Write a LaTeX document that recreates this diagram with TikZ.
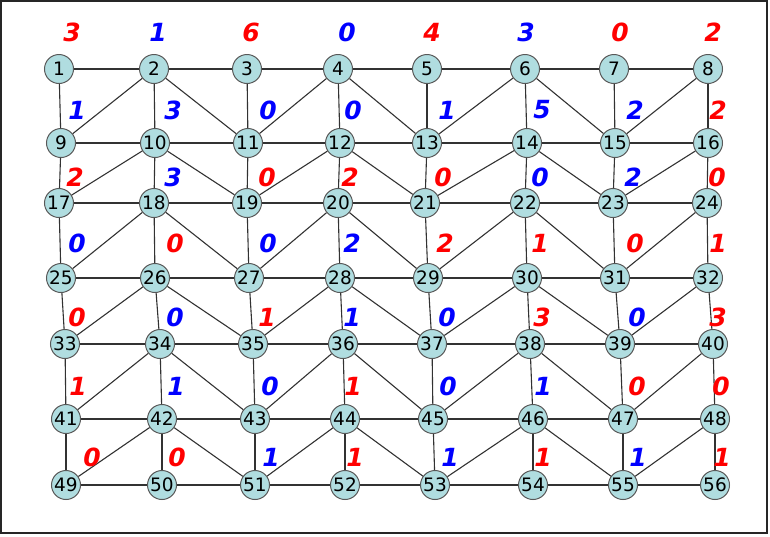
\documentclass[tikz,border=0pt]{standalone}
\usepackage{fontspec}
\setmainfont{DejaVu Sans}
\definecolor{nodefill}{RGB}{176,221,224}
\definecolor{edgecol}{RGB}{50,50,50}
\definecolor{labred}{RGB}{255,0,0}
\definecolor{labblue}{RGB}{0,0,255}
\tikzset{
  vertex/.style={circle, draw=black!65, line width=1pt, fill=nodefill, minimum size=29pt, inner sep=0pt, text=black, font=\fontsize{18.5}{18.5}\selectfont},
  edge/.style={draw=edgecol, line width=1.1pt},
  lab/.style={inner sep=0pt, font=\fontsize{25}{25}\selectfont\bfseries\itshape},
  rl/.style={lab, text=labred},
  bl/.style={lab, text=labblue},
  frame/.style={draw=black!85, line width=2pt}
}
\begin{document}
\begin{tikzpicture}[x=1pt,y=-1pt]
\useasboundingbox (0,0) rectangle (770,536);
\draw[frame] (1,1) rectangle (767,533);
% nodes
\node[vertex] (n1) at (59,69) {1};
\node[vertex] (n2) at (154,69) {2};
\node[vertex] (n3) at (247,69) {3};
\node[vertex] (n4) at (338,69) {4};
\node[vertex] (n5) at (427,69) {5};
\node[vertex] (n6) at (525,69) {6};
\node[vertex] (n7) at (614,69) {7};
\node[vertex] (n8) at (708,69) {8};
\node[vertex] (n9) at (61,143) {9};
\node[vertex] (n10) at (155,143) {10};
\node[vertex] (n11) at (248,143) {11};
\node[vertex] (n12) at (340,143) {12};
\node[vertex] (n13) at (427,143) {13};
\node[vertex] (n14) at (527,143) {14};
\node[vertex] (n15) at (615,143) {15};
\node[vertex] (n16) at (708,143) {16};
\node[vertex] (n17) at (59,203) {17};
\node[vertex] (n18) at (154,203) {18};
\node[vertex] (n19) at (247,203) {19};
\node[vertex] (n20) at (338,203) {20};
\node[vertex] (n21) at (425,203) {21};
\node[vertex] (n22) at (525,203) {22};
\node[vertex] (n23) at (613,203) {23};
\node[vertex] (n24) at (707,203) {24};
\node[vertex] (n25) at (61,278) {25};
\node[vertex] (n26) at (155,278) {26};
\node[vertex] (n27) at (249,278) {27};
\node[vertex] (n28) at (340,278) {28};
\node[vertex] (n29) at (428,278) {29};
\node[vertex] (n30) at (527,278) {30};
\node[vertex] (n31) at (615,278) {31};
\node[vertex] (n32) at (708,278) {32};
\node[vertex] (n33) at (65,344) {33};
\node[vertex] (n34) at (160,344) {34};
\node[vertex] (n35) at (253,344) {35};
\node[vertex] (n36) at (343,344) {36};
\node[vertex] (n37) at (432,344) {37};
\node[vertex] (n38) at (530,344) {38};
\node[vertex] (n39) at (620,344) {39};
\node[vertex] (n40) at (713,344) {40};
\node[vertex] (n41) at (66,419) {41};
\node[vertex] (n42) at (162,419) {42};
\node[vertex] (n43) at (255,419) {43};
\node[vertex] (n44) at (345,419) {44};
\node[vertex] (n45) at (433,419) {45};
\node[vertex] (n46) at (533,419) {46};
\node[vertex] (n47) at (623,419) {47};
\node[vertex] (n48) at (715,419) {48};
\node[vertex] (n49) at (66,485) {49};
\node[vertex] (n50) at (162,485) {50};
\node[vertex] (n51) at (255,485) {51};
\node[vertex] (n52) at (345,485) {52};
\node[vertex] (n53) at (435,485) {53};
\node[vertex] (n54) at (533,485) {54};
\node[vertex] (n55) at (623,485) {55};
\node[vertex] (n56) at (715,485) {56};
% horizontal edges
\foreach \r in {0,...,6}{
  \foreach \c in {1,...,7}{
    \pgfmathtruncatemacro\a{8*\r+\c}
    \pgfmathtruncatemacro\b{\a+1}
    \draw[edge] (n\a) -- (n\b);
  }
}
% vertical edges
\foreach \a in {1,...,48}{
  \pgfmathtruncatemacro\b{\a+8}
  \draw[edge] (n\a) -- (n\b);
}
% diagonal edges
\foreach \r in {0,...,5}{
  \foreach \c in {2,4,6,8}{
    \pgfmathtruncatemacro\a{8*\r+\c}
    \pgfmathtruncatemacro\b{\a+7}
    \draw[edge] (n\a) -- (n\b);
    \ifnum\c<8
      \pgfmathtruncatemacro\d{\a+9}
      \draw[edge] (n\a) -- (n\d);
    \fi
  }
}
% labels
\node[rl] (l1) at (72,32) {3};
\node[bl] (l2) at (158,32) {1};
\node[rl] (l3) at (251,32) {6};
\node[bl] (l4) at (347,32) {0};
\node[rl] (l5) at (432,32) {4};
\node[bl] (l6) at (526,32) {3};
\node[rl] (l7) at (620,32) {0};
\node[rl] (l8) at (713,32) {2};
\node[bl] (l9) at (77,110) {1};
\node[bl] (l10) at (173,110) {3};
\node[bl] (l11) at (268,110) {0};
\node[bl] (l12) at (353,110) {0};
\node[bl] (l13) at (447,110) {1};
\node[bl] (l14) at (542,110) {5};
\node[bl] (l15) at (635,110) {2};
\node[rl] (l16) at (718,110) {2};
\node[rl] (l17) at (75,177) {2};
\node[bl] (l18) at (173,177) {3};
\node[rl] (l19) at (267,177) {0};
\node[rl] (l20) at (350,177) {2};
\node[rl] (l21) at (443,177) {0};
\node[bl] (l22) at (540,177) {0};
\node[bl] (l23) at (633,177) {2};
\node[rl] (l24) at (717,177) {0};
\node[bl] (l25) at (77,243) {0};
\node[rl] (l26) at (175,243) {0};
\node[bl] (l27) at (268,243) {0};
\node[bl] (l28) at (352,243) {2};
\node[rl] (l29) at (445,243) {2};
\node[rl] (l30) at (540,243) {1};
\node[rl] (l31) at (635,243) {0};
\node[rl] (l32) at (718,243) {1};
\node[rl] (l33) at (77,317) {0};
\node[bl] (l34) at (175,317) {0};
\node[rl] (l35) at (267,317) {1};
\node[bl] (l36) at (352,317) {1};
\node[bl] (l37) at (447,317) {0};
\node[rl] (l38) at (542,317) {3};
\node[bl] (l39) at (637,317) {0};
\node[rl] (l40) at (718,317) {3};
\node[rl] (l41) at (78,386) {1};
\node[bl] (l42) at (176,386) {1};
\node[bl] (l43) at (270,386) {0};
\node[rl] (l44) at (353,386) {1};
\node[bl] (l45) at (448,386) {0};
\node[bl] (l46) at (543,386) {1};
\node[rl] (l47) at (637,386) {0};
\node[rl] (l48) at (721,386) {0};
\node[rl] (l49) at (92,457) {0};
\node[rl] (l50) at (177,457) {0};
\node[bl] (l51) at (271,457) {1};
\node[rl] (l52) at (355,457) {1};
\node[bl] (l53) at (450,457) {1};
\node[rl] (l54) at (543,457) {1};
\node[bl] (l55) at (638,457) {1};
\node[rl] (l56) at (722,457) {1};
\end{tikzpicture}
\end{document}
